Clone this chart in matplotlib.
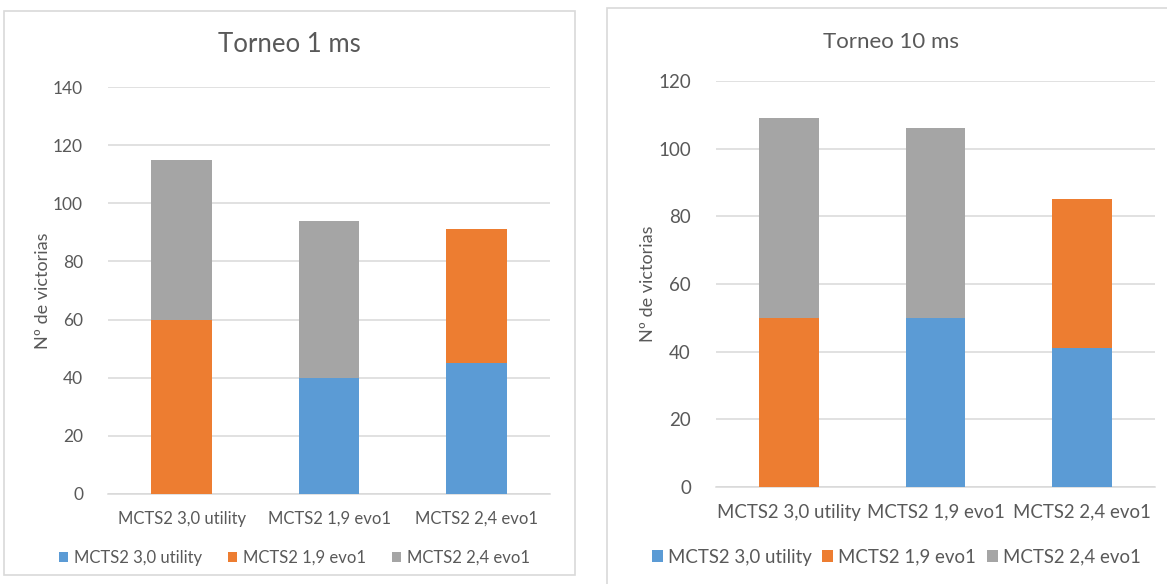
import matplotlib.pyplot as plt
from matplotlib.patches import Rectangle

categories = ['MCTS2 3,0 utility', 'MCTS2 1,9 evo1', 'MCTS2 2,4 evo1']
series_names = ['MCTS2 3,0 utility', 'MCTS2 1,9 evo1', 'MCTS2 2,4 evo1']

# victories per series, one value per category (stacked)
t1_utility = [0, 40, 45]
t1_evo19 = [60, 0, 46]
t1_evo24 = [55, 54, 0]

t10_utility = [0, 50, 41]
t10_evo19 = [50, 0, 44]
t10_evo24 = [59, 56, 0]

colors = ['#5B9BD5', '#ED7D31', '#A5A5A5']
text_c = '#595959'
grid_c = '#D9D9D9'

plt.rcParams['font.family'] = ['Lato', 'DejaVu Sans']

W, H = 1167, 584
fig = plt.figure(figsize=(W / 100, H / 100), dpi=100)
fig.patch.set_facecolor('white')


def px_rect(x0, y0, x1, y1):
    # pixel box (top-left origin) -> figure fraction [l, b, w, h]
    return [x0 / W, (H - y1) / H, (x1 - x0) / W, (y1 - y0) / H]


def draw_panel(box, axbox, series, ymax, title, title_y, fs_y, fs_x, fs_title,
               ylabel_x, leg_y, leg_x, colspace, hlen, hpad):
    l, b, w, h = px_rect(*box)
    fig.patches.append(Rectangle((l, b), w, h, transform=fig.transFigure,
                                 facecolor='none', edgecolor='#D9D9D9', lw=1.2))
    ax = fig.add_axes(px_rect(*axbox))
    ax.patch.set_alpha(0)
    x = range(len(categories))
    bottom = [0] * len(categories)
    handles = []
    for vals, c, name in zip(series, colors, series_names):
        bars = ax.bar(x, vals, 0.41, bottom=bottom, color=c, label=name, zorder=3)
        handles.append(bars)
        bottom = [bo + v for bo, v in zip(bottom, vals)]
    ax.set_xlim(-0.5, 2.5)
    ax.set_ylim(0, ymax)
    ax.set_yticks(range(0, ymax + 1, 20))
    ax.yaxis.grid(True, color=grid_c, lw=1.1, zorder=0)
    ax.set_axisbelow(True)
    for s in ['top', 'right', 'left']:
        ax.spines[s].set_visible(False)
    ax.spines['bottom'].set_color(grid_c)
    ax.spines['bottom'].set_linewidth(1.1)
    ax.tick_params(length=0, colors=text_c)
    ax.tick_params(axis='y', pad=18, labelsize=fs_y)
    ax.tick_params(axis='x', pad=12, labelsize=fs_x)
    ax.set_xticks(list(x))
    ax.set_xticklabels(categories)
    cx = (box[0] + box[2]) / 2 / W
    fig.text(cx, 1 - title_y / H, title, ha='center', va='center',
             color=text_c, fontsize=fs_title)
    fig.text(ylabel_x / W, 1 - ((axbox[1] + axbox[3]) / 2) / H, 'Nº de victorias',
             rotation=90, ha='center', va='center', color=text_c, fontsize=13)
    leg = ax.legend(handles=handles, loc='center left', ncol=3, frameon=False,
                    bbox_to_anchor=(leg_x / W, 1 - leg_y / H), bbox_transform=fig.transFigure,
                    fontsize=fs_x, handlelength=hlen, handleheight=hlen,
                    handletextpad=hpad, columnspacing=colspace,
                    borderaxespad=0, borderpad=0)
    for t in leg.get_texts():
        t.set_color(text_c)
    return ax


draw_panel((4, 11, 575, 575), (108, 87, 550, 494),
           [t1_utility, t1_evo19, t1_evo24], 140, 'Torneo 1 ms', 45,
           12.5, 12, 18.5, 43, 558, 59, 1.55, 0.55, 0.35)
draw_panel((607, 8, 1175, 590), (716, 81, 1155, 487),
           [t10_utility, t10_evo19, t10_evo24], 120, 'Torneo 10 ms', 42,
           13.5, 13.4, 16, 648, 557, 652, 0.55, 0.6, 0.27)

fig.savefig('out.png', dpi=100)
